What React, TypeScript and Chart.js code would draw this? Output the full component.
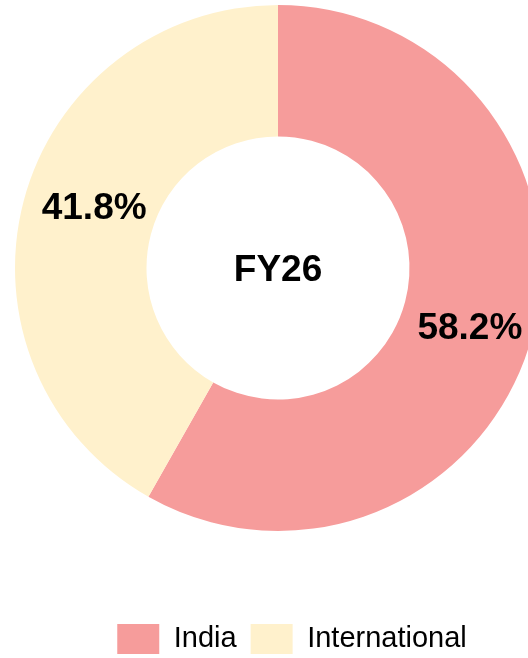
import React, { useEffect, useRef } from "react";
import { Chart, registerables } from "chart.js";

Chart.register(...registerables);

const categories = ["India", "International"];
const shares = [58.2, 41.8];
const sliceColors = ["#F69C9B", "#FFF1CC"];
const centerLabel = "FY26";

const FONT = "'Liberation Sans', Arial, sans-serif";

const labelPlugin = {
  id: "sliceLabels",
  afterDatasetsDraw(chart: any) {
    const { ctx } = chart;
    const meta = chart.getDatasetMeta(0);
    ctx.save();
    ctx.font = `bold 37px ${FONT}`;
    ctx.fillStyle = "#000";
    ctx.textAlign = "center";
    ctx.textBaseline = "middle";
    let cx = 0;
    let cy = 0;
    meta.data.forEach((arc: any, i: number) => {
      const p = arc.getProps(["x", "y", "startAngle", "endAngle", "innerRadius", "outerRadius"], true);
      cx = p.x;
      cy = p.y;
      const mid = (p.startAngle + p.endAngle) / 2 + (3 * Math.PI) / 180;
      const r = (p.innerRadius + p.outerRadius) / 2;
      ctx.fillText(shares[i].toFixed(1) + "%", p.x + Math.cos(mid) * r + 4, p.y + Math.sin(mid) * r + 1);
    });
    ctx.fillText(centerLabel, cx, cy + 3);
    ctx.restore();
  },
};

export default function App() {
  const ref = useRef<HTMLCanvasElement | null>(null);
  useEffect(() => {
    if (!ref.current) return;
    const chart = new Chart(ref.current, {
      type: "doughnut",
      data: {
        labels: categories,
        datasets: [
          {
            data: shares,
            backgroundColor: sliceColors,
            borderWidth: 0,
          },
        ],
      },
      options: {
        responsive: false,
        animation: false,
        radius: 263,
        cutout: "50%",
        layout: { padding: 0 },
        plugins: {
          tooltip: { enabled: false },
          title: {
            display: true,
            text: " ",
            position: "right",
            fullSize: false,
            font: { size: 10 },
            padding: { top: 8, bottom: 8 },
          },
          legend: {
            position: "bottom",
            title: {
              display: true,
              text: "",
              font: { size: 10 },
              padding: { top: 62, bottom: 0 },
            },
            labels: {
              boxWidth: 42,
              boxHeight: 30,
              padding: 14,
              color: "#000",
              font: { family: FONT, size: 29 },
            },
          },
        },
      } as any,
      plugins: [labelPlugin],
    });
    return () => chart.destroy();
  }, []);
  return (
    <div
      style={{
        position: "fixed",
        left: 0,
        top: 0,
        width: 528,
        height: 658,
        overflow: "hidden",
        background: "#fff",
      }}
    >
      <canvas ref={ref} width={584} height={664} style={{ display: "block", width: 584, height: 664 }} />
    </div>
  );
}
